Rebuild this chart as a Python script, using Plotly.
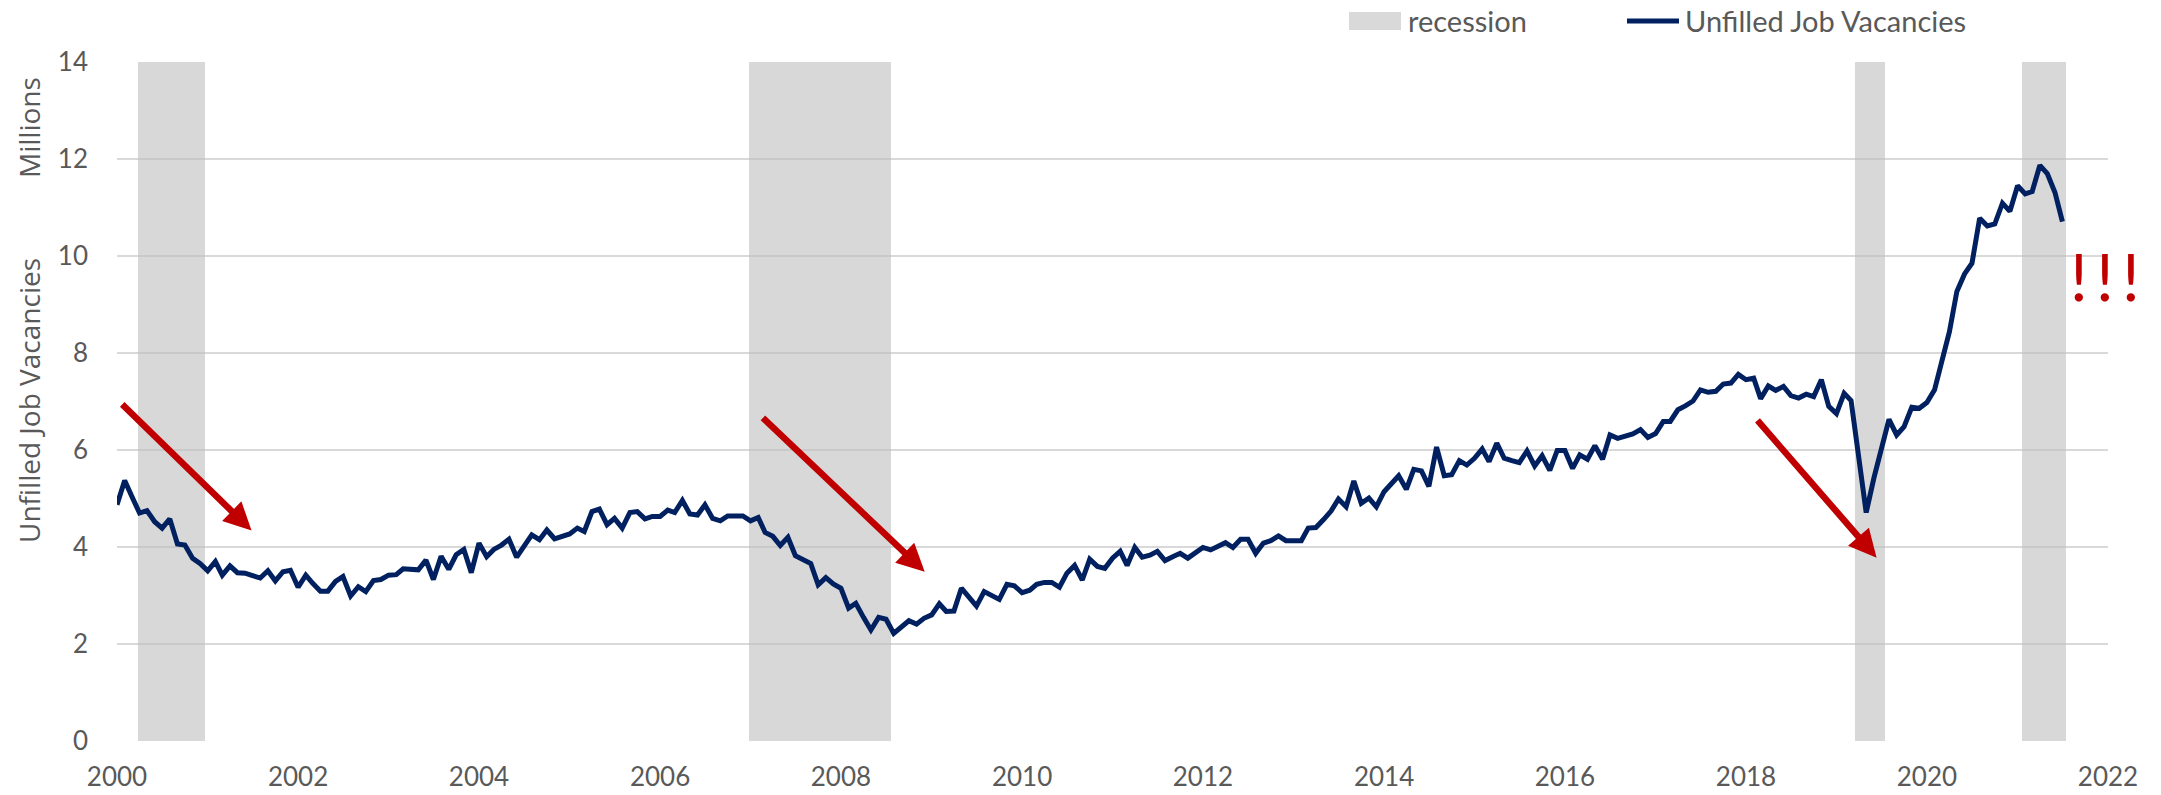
import pandas as pd
import plotly.graph_objects as go

# ---------------- data ----------------
start_month = "2000-01-01"
vacancies = [
    4.87, 5.37, 5.04, 4.70, 4.75, 4.52, 4.39, 4.58, 4.06, 4.04, 3.77, 3.66,
    3.51, 3.70, 3.42, 3.61, 3.47, 3.46, 3.41, 3.36, 3.51, 3.30, 3.49, 3.52,
    3.17, 3.42, 3.25, 3.09, 3.09, 3.29, 3.39, 2.99, 3.18, 3.08, 3.31, 3.33,
    3.42, 3.43, 3.55, 3.54, 3.53, 3.73, 3.33, 3.81, 3.54, 3.84, 3.95, 3.47,
    4.08, 3.80, 3.95, 4.04, 4.16, 3.79, 4.04, 4.25, 4.15, 4.35, 4.17, 4.23,
    4.27, 4.39, 4.32, 4.73, 4.78, 4.46, 4.59, 4.39, 4.71, 4.73, 4.58, 4.63,
    4.63, 4.76, 4.71, 4.96, 4.68, 4.66, 4.87, 4.59, 4.54, 4.64, 4.64, 4.64,
    4.54, 4.61, 4.30, 4.22, 4.03, 4.20, 3.82, 3.75, 3.66, 3.22, 3.37, 3.24,
    3.15, 2.74, 2.84, 2.55, 2.29, 2.55, 2.51, 2.22, 2.34, 2.48, 2.41, 2.53,
    2.60, 2.83, 2.67, 2.68, 3.15, 2.98, 2.78, 3.08, 3.01, 2.92, 3.23, 3.20,
    3.06, 3.11, 3.23, 3.27, 3.27, 3.17, 3.46, 3.62, 3.32, 3.75, 3.60, 3.56,
    3.77, 3.91, 3.62, 3.99, 3.79, 3.83, 3.91, 3.72, 3.80, 3.87, 3.77, 3.87,
    3.99, 3.94, 4.02, 4.09, 3.99, 4.16, 4.16, 3.87, 4.08, 4.13, 4.23, 4.13,
    4.13, 4.13, 4.39, 4.40, 4.56, 4.74, 4.99, 4.83, 5.36, 4.90, 5.01, 4.83,
    5.14, 5.33, 5.47, 5.19, 5.60, 5.57, 5.25, 6.06, 5.47, 5.49, 5.78, 5.69,
    5.83, 6.02, 5.76, 6.14, 5.83, 5.78, 5.74, 5.98, 5.67, 5.88, 5.58, 5.99,
    5.99, 5.62, 5.90, 5.81, 6.09, 5.81, 6.31, 6.24, 6.28, 6.33, 6.42, 6.26,
    6.34, 6.59, 6.59, 6.83, 6.91, 7.01, 7.24, 7.19, 7.21, 7.36, 7.38, 7.56,
    7.45, 7.48, 7.06, 7.32, 7.23, 7.31, 7.12, 7.07, 7.15, 7.10, 7.45, 6.90,
    6.75, 7.17, 7.02, 5.93, 4.71, 5.42, 6.07, 6.63, 6.31, 6.48, 6.88, 6.86,
    6.98, 7.24, 7.82, 8.44, 9.27, 9.63, 9.85, 10.78, 10.62, 10.66, 11.09, 10.92,
    11.45, 11.28, 11.33, 11.87, 11.70, 11.31, 10.71,
]
months = pd.date_range(start_month, periods=len(vacancies), freq="MS")

recession_start = ["2000-03-26", "2006-12-24", "2019-03-16", "2021-01-17"]
recession_end = ["2000-12-23", "2008-07-19", "2019-07-14", "2021-07-14"]
recession_top = 14

x_ticks = ["2000", "2002", "2004", "2006", "2008", "2010", "2012",
           "2014", "2016", "2018", "2020", "2022"]
y_ticks = [0, 2, 4, 6, 8, 10, 12, 14]

series_names = ["recession", "Unfilled Job Vacancies"]

# ---------------- figure ----------------
W, H = 2161, 795
ML, MR, MT, MB = 117, 53, 62, 54
PW, PH = W - ML - MR, H - MT - MB


def px_x(px):
    return (px - ML) / PW


def px_y(py):
    return (H - MB - py) / PH


rs = pd.to_datetime(recession_start)
re_ = pd.to_datetime(recession_end)
rec_mid = rs + (re_ - rs) / 2
rec_width = [(e - s).total_seconds() * 1000 for s, e in zip(rs, re_)]

GREY = "#595959"
NAVY = "#002060"
BAND = "rgba(190,190,190,0.6)"
TICKFONT = dict(family="Lato, Carlito, sans-serif", size=26, color=GREY)

fig = go.Figure()
fig.add_trace(go.Bar(
    x=rec_mid, y=[recession_top] * len(rs), width=rec_width, base=0,
    name=series_names[0], marker=dict(color=BAND, line=dict(width=0)),
    hoverinfo="skip", showlegend=False,
))
fig.add_trace(go.Scatter(
    x=months, y=vacancies, mode="lines", name=series_names[1],
    line=dict(color=NAVY, width=5), showlegend=False,
))

fig.update_layout(
    width=W, height=H,
    margin=dict(l=ML, r=MR, t=MT, b=MB, autoexpand=False),
    paper_bgcolor="white", plot_bgcolor="white",
    bargap=0,
    font=dict(family="Lato, sans-serif", color=GREY),
)

fig.update_xaxes(
    type="date", range=["2000-01-01", "2022-01-01"],
    tickvals=[f"{t}-01-01" for t in x_ticks], ticktext=x_ticks,
    showgrid=False, zeroline=False, showline=False,
    ticks="", tickfont=TICKFONT, ticklabelstandoff=18,
)
fig.update_yaxes(
    range=[0, 14], tickvals=y_ticks,
    showgrid=True, gridcolor="#D9D9D9", gridwidth=1.6,
    zeroline=False, showline=False, ticks="",
    tickfont=TICKFONT, ticklabelstandoff=28,
)

# axis titles (two-part, as in the original)
title_font = dict(family="Open Sans, sans-serif", size=28, color=GREY)
fig.add_annotation(text="Millions", xref="paper", yref="paper",
                   x=px_x(29), y=px_y(128), textangle=-90,
                   showarrow=False, font=title_font, xanchor="center", yanchor="middle")
fig.add_annotation(text="Unfilled Job Vacancies", xref="paper", yref="paper",
                   x=px_x(29), y=px_y(401), textangle=-90,
                   showarrow=False, font=title_font, xanchor="center", yanchor="middle")

# legend (drawn to match the original's swatch sizes)
legend_font = dict(family="Lato, Carlito, sans-serif", size=29, color=GREY)
fig.add_shape(type="rect", xref="paper", yref="paper",
              x0=px_x(1349), x1=px_x(1401), y0=px_y(30), y1=px_y(12),
              fillcolor="#D9D9D9", line=dict(width=0), layer="above")
fig.add_annotation(text=series_names[0], xref="paper", yref="paper",
                   x=px_x(1406), y=px_y(21), xanchor="left", yanchor="middle",
                   showarrow=False, font=legend_font)
fig.add_shape(type="line", xref="paper", yref="paper",
              x0=px_x(1627), x1=px_x(1679), y0=px_y(21), y1=px_y(21),
              line=dict(color=NAVY, width=5), layer="above")
fig.add_annotation(text=series_names[1], xref="paper", yref="paper",
                   x=px_x(1683), y=px_y(21), xanchor="left", yanchor="middle",
                   showarrow=False, font=legend_font)

# red arrows
arrows = [
    (("2000-01-16", 6.97), ("2001-06-27", 4.34)),
    (("2007-02-14", 6.69), ("2008-12-04", 3.49)),
    (("2018-02-11", 6.64), ("2019-06-12", 3.78)),
]
for (tx, ty), (hx, hy) in arrows:
    fig.add_annotation(x=hx, y=hy, ax=tx, ay=ty, xref="x", yref="y",
                       axref="x", ayref="y", text="", showarrow=True,
                       arrowhead=2, arrowsize=0.85, arrowwidth=6.5,
                       arrowcolor="#C00000", standoff=0)

fig.add_annotation(text="!\u2009!\u2009!", x="2021-12-20", y=9.6, xref="x", yref="y",
                   showarrow=False, font=dict(family="Lato, sans-serif", size=66, color="#C00000"),
                   xanchor="center", yanchor="middle")

fig.write_html("out.html", config={"displayModeBar": False},
               post_script="document.body.style.margin='0';")
